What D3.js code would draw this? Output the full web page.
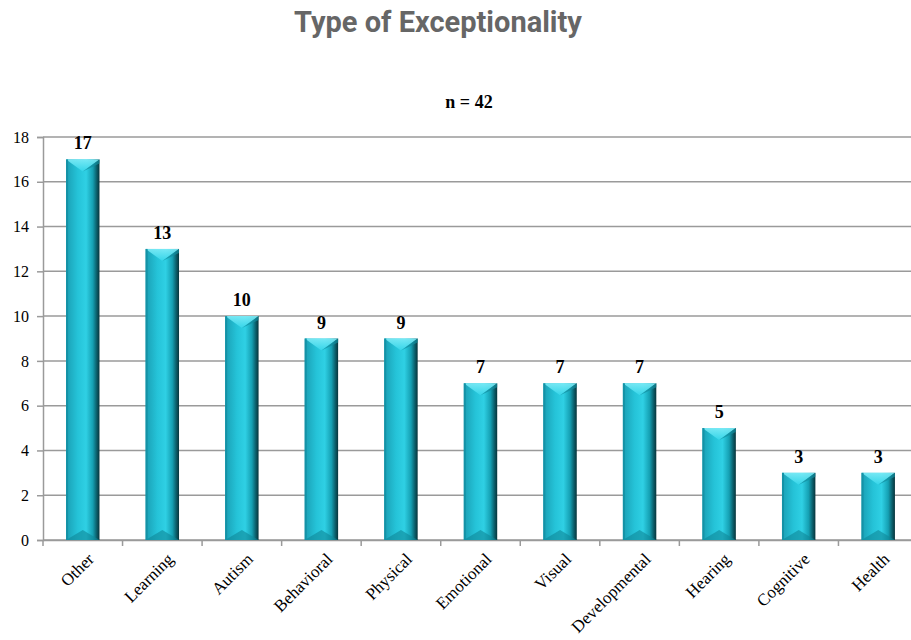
<!DOCTYPE html>
<html><head><meta charset="utf-8">
<script src="https://cdn.jsdelivr.net/npm/d3@7"></script>
<style>body{margin:0;background:#fff;}svg{display:block;}</style>
</head><body>
<svg id="chart" width="911" height="640"></svg>
<script>
const categories = ["Other","Learning","Autism","Behavioral","Physical","Emotional","Visual","Developmental","Hearing","Cognitive","Health"];
const values = [17,13,10,9,9,7,7,7,5,3,3];
const yTicks = [0,2,4,6,8,10,12,14,16,18];
const title = "Type of Exceptionality";
const subtitle = "n = 42";

const svg = d3.select("#chart");
const W = 911, H = 640;
const x0 = 43, x1 = 918, yBottom = 540, yTop = 137;

const x = d3.scaleBand().domain(categories).range([x0, x1]).paddingInner(0.58).paddingOuter(0.29);
const y = d3.scaleLinear().domain([0, 18]).range([yBottom, yTop]);

const defs = svg.append("defs");
const g = defs.append("linearGradient").attr("id","barGrad").attr("x1","0").attr("x2","1").attr("y1","0").attr("y2","0");
[[0,"#1a9fb4"],[0.35,"#25c3d8"],[0.6,"#2fd0e4"],[0.8,"#15a0b3"],[0.92,"#0b5c68"],[1,"#07343b"]].forEach(([o,c])=>g.append("stop").attr("offset",o).attr("stop-color",c));
const gTop = defs.append("linearGradient").attr("id","topGrad").attr("x1","0").attr("x2","0").attr("y1","0").attr("y2","1");
[[0,"#7fecf7"],[1,"#36d6ea"]].forEach(([o,c])=>gTop.append("stop").attr("offset",o).attr("stop-color",c));

// title
svg.append("text").attr("x", 438).attr("y", 32).attr("text-anchor","middle")
  .attr("font-family","Roboto").attr("font-weight","bold").attr("font-size",29).attr("fill","#666")
  .text(title);
svg.append("text").attr("x", 469).attr("y", 108).attr("text-anchor","middle")
  .attr("font-family","Liberation Serif").attr("font-weight","bold").attr("font-size",18).attr("fill","#000")
  .text(subtitle);

// gridlines
svg.append("g").selectAll("line").data(yTicks).join("line")
  .attr("x1", x0).attr("x2", W).attr("y1", d=>y(d)).attr("y2", d=>y(d))
  .attr("stroke","#9a9a9a").attr("stroke-width",1.5);

// y axis
const yAxis = svg.append("g").attr("transform",`translate(${x0},0)`)
  .call(d3.axisLeft(y).tickValues(yTicks).tickSize(6).tickPadding(8));
yAxis.select(".domain").attr("stroke","#9a9a9a").attr("stroke-width",1.5);
yAxis.selectAll(".tick line").attr("stroke","#9a9a9a").attr("stroke-width",1.5);
yAxis.selectAll("text").attr("font-family","Liberation Serif").attr("font-size",16).attr("fill","#000");

// x axis
const xAxis = svg.append("g").attr("transform",`translate(0,${yBottom})`)
  .call(d3.axisBottom(x).tickSize(0).tickFormat(""));
xAxis.select(".domain").attr("stroke","#9a9a9a").attr("stroke-width",1.5);
// category boundary ticks
const step = x.step();
svg.append("g").selectAll("line").data(d3.range(categories.length+1)).join("line")
  .attr("x1", i=>x0+i*step).attr("x2", i=>x0+i*step).attr("y1", yBottom).attr("y2", yBottom+6)
  .attr("stroke","#9a9a9a").attr("stroke-width",1.5);

// x labels
svg.append("g").selectAll("text").data(categories).join("text")
  .attr("transform", d=>`translate(${x(d)+x.bandwidth()/2+8},${yBottom+16}) rotate(-45)`)
  .attr("text-anchor","end").attr("dy","0.35em")
  .attr("font-family","Liberation Serif").attr("font-size",17).attr("fill","#000")
  .text(d=>d);

// bars
const bars = svg.append("g").selectAll("g").data(categories.map((c,i)=>({c, v: values[i]}))).join("g");
bars.append("rect")
  .attr("x", d=>x(d.c)).attr("y", d=>y(d.v)).attr("width", x.bandwidth()).attr("height", d=>yBottom-y(d.v))
  .attr("fill","url(#barGrad)");
// top bevel
bars.append("path").attr("d", d=>{
  const l = x(d.c), r = l + x.bandwidth(), t = y(d.v), m = (l+r)/2, h = 12;
  return `M${l},${t}L${r},${t}L${m},${t+h}Z`;
}).attr("fill","url(#topGrad)").attr("opacity",0.9);
bars.append("path").attr("d", d=>{
  const l = x(d.c), r = l + x.bandwidth(), t = y(d.v), m = (l+r)/2, h = 12;
  return `M${r},${t}L${r},${t+4}L${m},${t+h}Z`;
}).attr("fill","#128c9c").attr("opacity",0.7);
// bottom bevel
bars.append("path").attr("d", d=>{
  const l = x(d.c), r = l + x.bandwidth(), m = (l+r)/2, b = yBottom, h = 10;
  return `M${l},${b}L${r},${b}L${m},${b-h}Z`;
}).attr("fill","#0f8797").attr("opacity",0.6);
// left edge highlight
bars.append("rect")
  .attr("x", d=>x(d.c)).attr("y", d=>y(d.v)).attr("width", 2).attr("height", d=>yBottom-y(d.v))
  .attr("fill","#1592a6");

// value labels
bars.append("text")
  .attr("x", d=>x(d.c)+x.bandwidth()/2).attr("y", d=>y(d.v)-10)
  .attr("text-anchor","middle")
  .attr("font-family","Liberation Serif").attr("font-weight","bold").attr("font-size",18).attr("fill","#000")
  .text(d=>d.v);
</script>
</body></html>
